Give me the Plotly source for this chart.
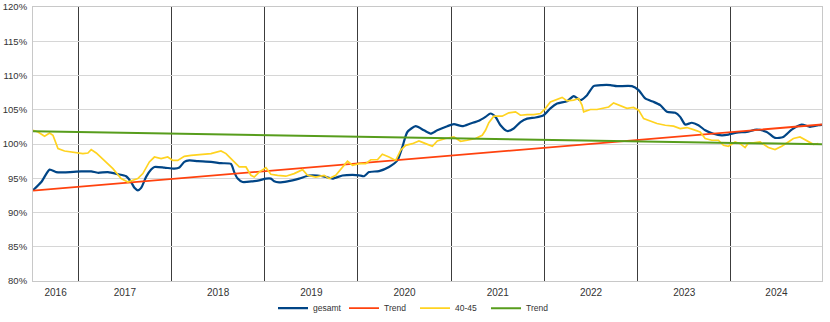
import plotly.graph_objects as go

# ---- data (decimal years, values in %) ----
years_gesamt = [2016.515, 2016.604, 2016.693, 2016.764, 2016.853, 2017.032, 2017.139, 2017.211, 2017.318,
                2017.425, 2017.514, 2017.567, 2017.603, 2017.639, 2017.675, 2017.728, 2017.782, 2017.817,
                2017.924, 2018.031, 2018.085, 2018.138, 2018.192, 2018.282, 2018.424, 2018.531, 2018.638,
                2018.673, 2018.710, 2018.763, 2018.870, 2018.941, 2019.013, 2019.066, 2019.102, 2019.155,
                2019.245, 2019.369, 2019.476, 2019.566, 2019.655, 2019.727, 2019.834, 2019.941, 2020.012,
                2020.065, 2020.119, 2020.226, 2020.333, 2020.423, 2020.476, 2020.530, 2020.619, 2020.708,
                2020.779, 2020.851, 2020.958, 2021.029, 2021.119, 2021.208, 2021.297, 2021.368, 2021.422,
                2021.475, 2021.529, 2021.601, 2021.671, 2021.743, 2021.815, 2021.904, 2021.992, 2022.064,
                2022.136, 2022.243, 2022.314, 2022.385, 2022.457, 2022.528, 2022.618, 2022.707, 2022.778,
                2022.939, 2023.010, 2023.081, 2023.170, 2023.242, 2023.314, 2023.403, 2023.456, 2023.510,
                2023.581, 2023.652, 2023.724, 2023.813, 2023.903, 2023.973, 2024.063, 2024.170, 2024.277,
                2024.384, 2024.473, 2024.562, 2024.652, 2024.759, 2024.848, 2024.937, 2024.977]
gesamt = [93.24, 94.45, 96.26, 95.9, 95.87, 96.0, 96.0, 95.8, 95.9,
          95.6, 95.3, 94.45, 93.6, 93.24, 93.6, 95.2, 96.26, 96.65,
          96.56, 96.4, 96.56, 97.4, 97.6, 97.5, 97.4, 97.2, 97.1,
          95.9, 94.95, 94.45, 94.55, 94.7, 94.95, 94.95, 94.55, 94.4,
          94.55, 94.95, 95.4, 95.4, 95.2, 94.95, 95.4, 95.5, 95.43,
          95.3, 95.9, 96.05, 96.65, 97.6, 99.55, 101.75, 102.6, 102.0,
          101.52, 102.0, 102.6, 102.9, 102.6, 103.0, 103.4, 103.96, 104.45,
          103.96, 102.74, 101.9, 102.26, 103.2, 103.7, 103.87, 104.2, 105.2,
          105.9, 106.25, 107.0, 106.4, 107.13, 108.45, 108.6, 108.6, 108.45,
          108.45, 107.86, 106.65, 106.15, 105.67, 104.7, 104.55, 103.96, 102.84,
          103.1, 102.74, 102.0, 101.5, 101.27, 101.38, 101.67, 101.77, 102.1,
          101.77, 100.9, 101.03, 102.1, 102.84, 102.5, 102.74, 102.8]

years_4045 = [2016.515, 2016.569, 2016.639, 2016.693, 2016.729, 2016.783, 2016.853, 2016.925, 2016.997,
              2017.050, 2017.104, 2017.139, 2017.193, 2017.282, 2017.372, 2017.460, 2017.532, 2017.586,
              2017.639, 2017.693, 2017.763, 2017.817, 2017.889, 2017.960, 2018.014, 2018.067, 2018.138,
              2018.210, 2018.317, 2018.424, 2018.531, 2018.585, 2018.638, 2018.727, 2018.799, 2018.852,
              2018.888, 2018.941, 2019.013, 2019.066, 2019.138, 2019.227, 2019.316, 2019.406, 2019.459,
              2019.548, 2019.637, 2019.691, 2019.762, 2019.834, 2019.888, 2019.941, 2020.012, 2020.084,
              2020.137, 2020.209, 2020.262, 2020.333, 2020.405, 2020.458, 2020.512, 2020.584, 2020.654,
              2020.726, 2020.798, 2020.851, 2020.940, 2021.029, 2021.101, 2021.172, 2021.261, 2021.333,
              2021.368, 2021.404, 2021.457, 2021.547, 2021.618, 2021.690, 2021.743, 2021.815, 2021.885,
              2021.957, 2022.011, 2022.064, 2022.118, 2022.190, 2022.243, 2022.314, 2022.367, 2022.403,
              2022.421, 2022.493, 2022.564, 2022.635, 2022.689, 2022.742, 2022.796, 2022.885, 2022.956,
              2023.010, 2023.064, 2023.117, 2023.207, 2023.296, 2023.385, 2023.456, 2023.528, 2023.599,
              2023.670, 2023.724, 2023.795, 2023.866, 2023.920, 2023.973, 2024.045, 2024.099, 2024.152,
              2024.188, 2024.241, 2024.313, 2024.402, 2024.473, 2024.545, 2024.616, 2024.670, 2024.741,
              2024.795, 2024.848, 2024.884, 2024.937]
v4045 = [102.0, 101.76, 101.13, 101.6, 101.28, 99.34, 98.98, 98.84, 98.69,
         98.6, 98.69, 99.19, 98.69, 97.6, 96.4, 94.95, 94.45, 94.7,
         94.95, 95.68, 97.38, 98.1, 97.87, 98.1, 97.6, 97.6, 98.2,
         98.35, 98.5, 98.6, 98.98, 98.6, 97.87, 96.65, 96.65, 95.43,
         95.18, 95.9, 96.56, 95.58, 95.43, 95.3, 95.68, 96.26, 95.43,
         95.18, 95.43, 94.95, 95.43, 96.65, 97.5, 96.9, 97.13, 97.13,
         97.7, 97.7, 98.5, 98.1, 97.6, 99.1, 99.8, 100.05, 100.45,
         100.05, 99.67, 100.45, 100.8, 101.03, 100.4, 100.55, 100.8, 101.28,
         102.0, 103.1, 104.06, 104.06, 104.55, 104.7, 104.2, 104.3, 104.3,
         104.45, 105.2, 106.15, 106.4, 106.8, 106.3, 106.4, 106.65, 105.67,
         104.7, 105.04, 105.04, 105.2, 105.4, 106.0, 105.67, 105.2, 105.33,
         104.94, 103.7, 103.4, 102.99, 102.74, 102.6, 102.26, 102.4, 102.1,
         101.77, 100.8, 100.55, 100.55, 99.82, 99.67, 100.3, 100.05, 99.48,
         100.16, 100.16, 100.3, 99.48, 99.19, 99.67, 100.3, 100.8, 101.03,
         100.65, 100.3, 99.96, 100.05]

trend_years = [2016.515, 2024.977]
trend_gesamt = [93.2, 102.85]
trend_4045 = [101.85, 99.95]

year_labels = [2016, 2017, 2018, 2019, 2020, 2021, 2022, 2023, 2024]
x_min, x_max = 2016.515, 2024.977
label_pos = [(max(y, x_min) + min(y + 1, x_max)) / 2 for y in year_labels]
boundaries = [b for b in [y + 1 for y in year_labels] if x_min < b < x_max]

BLUE, ORANGE, YELLOW, GREEN = "#004586", "#ff420e", "#ffd320", "#579d1c"

fig = go.Figure()
fig.add_trace(go.Scatter(x=years_gesamt, y=gesamt, name="gesamt", mode="lines",
                         line=dict(color=BLUE, width=2.2, shape="spline", smoothing=0.6)))
fig.add_trace(go.Scatter(x=trend_years, y=trend_gesamt, name="Trend", mode="lines",
                         line=dict(color=ORANGE, width=1.8)))
fig.add_trace(go.Scatter(x=years_4045, y=v4045, name="40-45", mode="lines",
                         line=dict(color=YELLOW, width=1.7)))
fig.add_trace(go.Scatter(x=trend_years, y=trend_4045, name="Trend", mode="lines",
                         line=dict(color=GREEN, width=2)))

FONT = "Liberation Sans Narrow, Liberation Sans, Arial, sans-serif"

fig.update_layout(
    width=830, height=322,
    margin=dict(l=33, r=8, t=7, b=41, autoexpand=False),
    paper_bgcolor="white", plot_bgcolor="white",
    font=dict(family=FONT, size=10, color="#333333"),
    showlegend=True,
    legend=dict(orientation="h", x=0.5, xanchor="center", xref="container",
                y=0.043, yanchor="middle", yref="container",
                font=dict(size=8.5, family=FONT, color="#333333"),
                entrywidth=26, entrywidthmode="pixels",
                tracegroupgap=0, bgcolor="rgba(0,0,0,0)"),
    xaxis=dict(range=[x_min, x_max], tickmode="array", tickvals=label_pos, automargin=False,
               ticktext=[str(y) for y in year_labels], showgrid=False, zeroline=False,
               showline=True, linecolor="#c8c8c8", linewidth=1, mirror=True,
               ticks="outside", ticklen=2, tickcolor="rgba(0,0,0,0)",
               tickfont=dict(size=10, family="Liberation Sans, Arial, sans-serif", color="#333333"),
               minor=dict(tickmode="array", tickvals=boundaries, showgrid=True,
                          gridcolor="#3c3c3c", gridwidth=1, ticks="")),
    yaxis=dict(range=[80, 120], tickmode="linear", tick0=80, dtick=5, ticksuffix="%",
               automargin=False,
               showgrid=True, gridcolor="#d6d6d6", gridwidth=1, zeroline=False,
               showline=True, linecolor="#c8c8c8", linewidth=1, mirror=True,
               ticks="outside", ticklen=3, tickcolor="rgba(0,0,0,0)",
               tickfont=dict(size=9.5, family=FONT, color="#333333")),
)

fig.write_html("out.html")
